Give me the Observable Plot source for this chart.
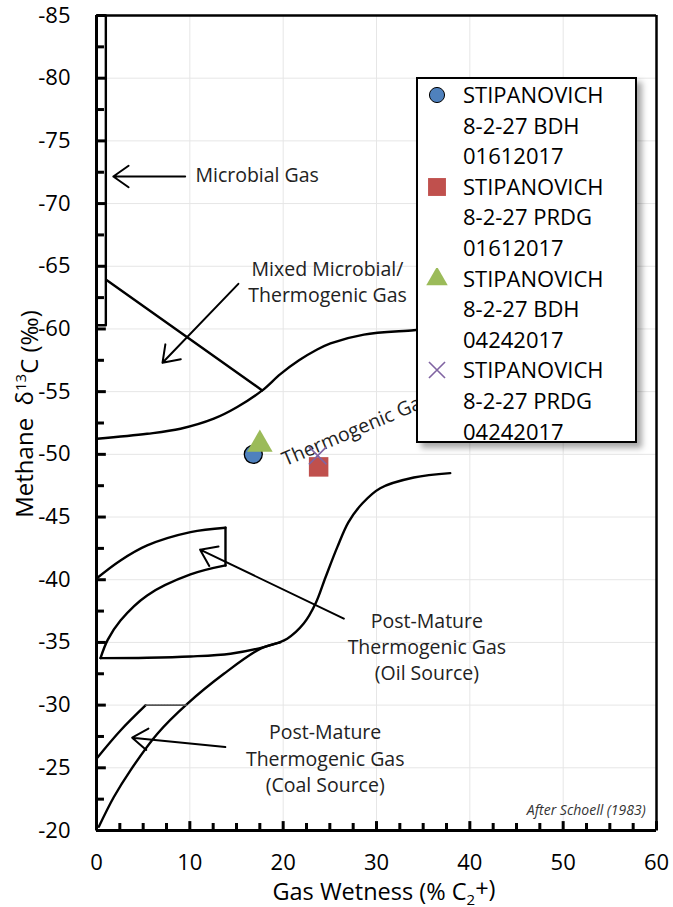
<!DOCTYPE html>
<html><head><meta charset="utf-8">
<script src="https://cdn.jsdelivr.net/npm/d3@7"></script>
<script src="https://cdn.jsdelivr.net/npm/@observablehq/plot@0.6"></script>
<style>
body{margin:0;background:#fff;}
#wrap{position:relative;width:673px;height:907px;font-family:"Open Sans",sans-serif;}
#legend{position:absolute;left:416px;top:77px;width:217px;height:362px;border:2px solid #000;background:#fff;box-shadow:5px 5px 6px rgba(0,0,0,0.35);}
.entry{position:absolute;left:0;width:217px;}
.entry svg{position:absolute;left:8px;top:5px;}
.entry div{position:absolute;left:45px;top:0;font-size:22px;line-height:30.6px;white-space:pre;color:#000;}
</style></head><body><div id="wrap"></div>
<script>
// ---- axis ticks ----
const xMajor = [0, 10, 20, 30, 40, 50, 60];
const xMinor = [2.5, 5, 7.5, 12.5, 15, 17.5, 22.5, 25, 27.5, 32.5, 35, 37.5, 42.5, 45, 47.5, 52.5, 55, 57.5];
const yMajor = [-85, -80, -75, -70, -65, -60, -55, -50, -45, -40, -35, -30, -25, -20];
const yMinor = [-82.5, -77.5, -72.5, -67.5, -62.5, -57.5, -52.5, -47.5, -42.5, -37.5, -32.5, -27.5, -22.5];
const xGrid = [10, 20, 30, 40, 50];
const yGrid = [-80, -75, -70, -65, -60, -55, -50, -45, -40, -35, -30, -25];

// ---- samples ----
const sampleNames = ["STIPANOVICH\n8-2-27 BDH\n01612017", "STIPANOVICH\n8-2-27 PRDG\n01612017", "STIPANOVICH\n8-2-27 BDH\n04242017", "STIPANOVICH\n8-2-27 PRDG\n04242017"];
const sampleWetness = [16.8, 23.8, 17.5, 23.7];
const sampleMethane = [-50.0, -49.0, -50.8, -49.9];
const sampleSymbols = ["circle", "square", "triangle", "times"];
const sampleColors = ["#4F81BD", "#C0504D", "#9BBB59", "#8064A2"];

// ---- Schoell (1983) field boundaries [wetness, d13C] ----
const microbialBox = [[0, -60.3], [1.0, -60.3], [1.0, -85]];
const mixedLine = [[1.07, -63.9], [17.76, -55.1]];
const thermoUpper = [[0.07, -51.24], [5.43, -51.64], [9.0, -52.04], [12.57, -52.84], [15.08, -53.77], [17.76, -55.1], [19.7, -56.4], [21.7, -57.5], [23.5, -58.3], [25.07, -58.85], [28.65, -59.55], [34.0, -59.9], [36.0, -60.05]];
const thermoLower = [[0.43, -33.75], [5.43, -33.78], [10.07, -33.88], [14.36, -34.1], [17.93, -34.63], [20.43, -35.3], [22.2, -36.5], [23.47, -38.1], [24.54, -40.2], [25.8, -42.6], [27.0, -44.6], [28.5, -46.1], [30.4, -47.3], [34.0, -48.15], [37.9, -48.5]];
const oilTop = [[0, -40.1], [2.57, -41.54], [5.43, -42.74], [10.07, -43.8], [13.82, -44.15]];
const oilSide = [[13.82, -44.15], [13.82, -41.14]];
const oilBottom = [[13.82, -41.14], [10.07, -40.42], [5.43, -38.75], [2.57, -36.75], [1.2, -35.2], [0.43, -33.75]];
const coalLower = [[0.25, -20.3], [1.86, -22.67], [3.64, -24.8], [6.5, -27.7], [9.72, -30.1], [13.65, -32.5], [17.58, -34.5], [19.7, -35.0]];
const coalUpper = [[0, -25.73], [2.57, -27.98], [5.25, -29.98]];
const coalCap = [[5.25, -30.0], [9.72, -30.0]];

// ---- annotations ----
const arrowFromX = [9.5, 15.2, 26.5, 13.8];
const arrowFromY = [-72.16, -63.6, -36.9, -26.65];
const arrowToX = [1.8, 7.07, 11.1, 3.82];
const arrowToY = [-72.16, -57.3, -42.4, -27.4];
const labelText = ["Mixed Microbial/\nThermogenic Gas", "Post-Mature\nThermogenic Gas\n(Oil Source)", "Post-Mature\nThermogenic Gas\n(Coal Source)"];
const labelX = [24.75, 35.4, 24.5];
const labelY = [-63.87, -34.76, -25.85];

const line = (pts, opts = {}) => Plot.line(pts, {x: d => d[0], y: d => d[1], stroke: "#000", strokeWidth: 2.4, curve: "catmull-rom", ...opts});

const sampleMarks = sampleNames.map((n, i) => Plot.dot([i], {
  x: j => sampleWetness[j], y: j => sampleMethane[j], symbol: sampleSymbols[i],
  r: [9, 11, 9.5, 8][i],
  fill: sampleSymbols[i] === "times" ? "none" : sampleColors[i],
  stroke: sampleSymbols[i] === "circle" ? "#000" : sampleColors[i],
  strokeWidth: sampleSymbols[i] === "times" ? 1.6 : (sampleSymbols[i] === "circle" ? 1.3 : 0),
  fillOpacity: 1
}));

// inward tick marks built as line segments through the x/y scales
const tickSegs = [
  ...xMinor.map(v => ({x1: v, x2: v, y1: -20, y2: -20.6})),
  ...xMajor.map(v => ({x1: v, x2: v, y1: -20, y2: -20.75})),
  ...yMinor.map(v => ({x1: 0, x2: 0.8, y1: v, y2: v})),
  ...yMajor.map(v => ({x1: 0, x2: 1.0, y1: v, y2: v}))
];

const chart = Plot.plot({
  width: 673, height: 907,
  marginLeft: 96, marginRight: 17, marginTop: 15, marginBottom: 77,
  style: {fontFamily: "'Open Sans', sans-serif", background: "#fff", overflow: "visible"},
  x: {domain: [0, 60]},
  y: {domain: [-85, -20], reverse: true},
  marks: [
    Plot.ruleX(xGrid, {stroke: "#e6e6e6", strokeWidth: 1}),
    Plot.ruleY(yGrid, {stroke: "#e6e6e6", strokeWidth: 1}),
    line(microbialBox, {curve: "linear"}),
    line(mixedLine, {curve: "linear"}),
    line(thermoUpper),
    line(thermoLower),
    line(oilTop),
    line(oilSide, {curve: "linear"}),
    line(oilBottom),
    line(coalLower),
    line(coalUpper),
    line(coalCap, {curve: "linear", stroke: "#555", strokeWidth: 1.6, strokeDasharray: "2,1"}),
    Plot.arrow(arrowFromX.map((d, i) => i), {
      x1: i => arrowFromX[i], y1: i => arrowFromY[i], x2: i => arrowToX[i], y2: i => arrowToY[i],
      stroke: "#000", strokeWidth: 2, headLength: 14, headAngle: 70, bend: 0
    }),
    Plot.text(labelText, {x: (d, i) => labelX[i], y: (d, i) => labelY[i], text: d => d, fontSize: 19.5, lineHeight: 1.35, fill: "#222"}),
    Plot.text(["Microbial Gas"], {x: 10.6, y: -72.2, textAnchor: "start", fontSize: 19.5, fill: "#222"}),
    Plot.text(["Thermogenic Gas"], {x: 20.0, y: -49.5, textAnchor: "start", rotate: -23, fontSize: 19.5, fill: "#222"}),
    Plot.text(["After Schoell (1983)"], {x: 58.84, y: -21.6, textAnchor: "end", fontSize: 14, fontStyle: "italic", fill: "#333"}),
    ...sampleMarks,
    // frame
    Plot.ruleY([-85], {stroke: "#000", strokeWidth: 2.5}),
    Plot.ruleX([60], {stroke: "#000", strokeWidth: 2.5}),
    Plot.ruleY([-20], {stroke: "#000", strokeWidth: 3}),
    Plot.ruleX([0], {stroke: "#000", strokeWidth: 3}),
    Plot.link(tickSegs, {x1: "x1", y1: "y1", x2: "x2", y2: "y2", stroke: "#000", strokeWidth: 3, strokeLinecap: "butt"}),
    Plot.axisX({ticks: xMajor, tickSize: 0, tickPadding: 24, fontSize: 22, label: null, tickFormat: d => String(d)}),
    Plot.axisY({ticks: yMajor, tickSize: 0, tickPadding: 26, fontSize: 22, label: null, tickFormat: d => String(d)})
  ]
});

const wrap = document.getElementById("wrap");
wrap.appendChild(chart);

const svg = d3.select(chart);
// axis titles with super/subscripts
const yt = svg.append("text").attr("transform", "translate(33,414) rotate(-90)")
  .attr("text-anchor", "middle").attr("font-size", 24).attr("fill", "#000");
yt.append("tspan").text("Methane  δ");
yt.append("tspan").attr("font-size", 15).attr("dy", "-0.5em").text("13");
yt.append("tspan").attr("dy", "0.5em").text("C (‰)");
const xt = svg.append("text").attr("x", 384).attr("y", 900)
  .attr("text-anchor", "middle").attr("font-size", 23.5).attr("fill", "#000");
xt.append("tspan").text("Gas Wetness (% C");
xt.append("tspan").attr("font-size", 15).attr("dy", "0.3em").text("2");
xt.append("tspan").attr("dy", "-0.3em").text("+)");

// legend
const leg = document.createElement("div");
leg.id = "legend";
sampleNames.forEach((n, i) => {
  const e = document.createElement("div");
  e.className = "entry";
  e.style.top = (i * 3 * 30.6) + "px";
  const s = d3.create("svg").attr("width", 22).attr("height", 22);
  const g = s.append("g").attr("transform", "translate(11,11)");
  const sym = {circle: d3.symbolCircle, square: d3.symbolSquare, triangle: d3.symbolTriangle, times: d3.symbolTimes}[sampleSymbols[i]];
  const sz = [180, 320, 200, 170][i];
  g.append("path").attr("d", d3.symbol(sym, sz)())
    .attr("fill", sampleSymbols[i] === "times" ? "none" : sampleColors[i])
    .attr("stroke", sampleSymbols[i] === "circle" ? "#000" : sampleColors[i])
    .attr("stroke-width", sampleSymbols[i] === "times" ? 1.6 : (sampleSymbols[i] === "circle" ? 1 : 0));
  e.appendChild(s.node());
  const t = document.createElement("div");
  t.textContent = n;
  e.appendChild(t);
  leg.appendChild(e);
});
wrap.appendChild(leg);
</script></body></html>
